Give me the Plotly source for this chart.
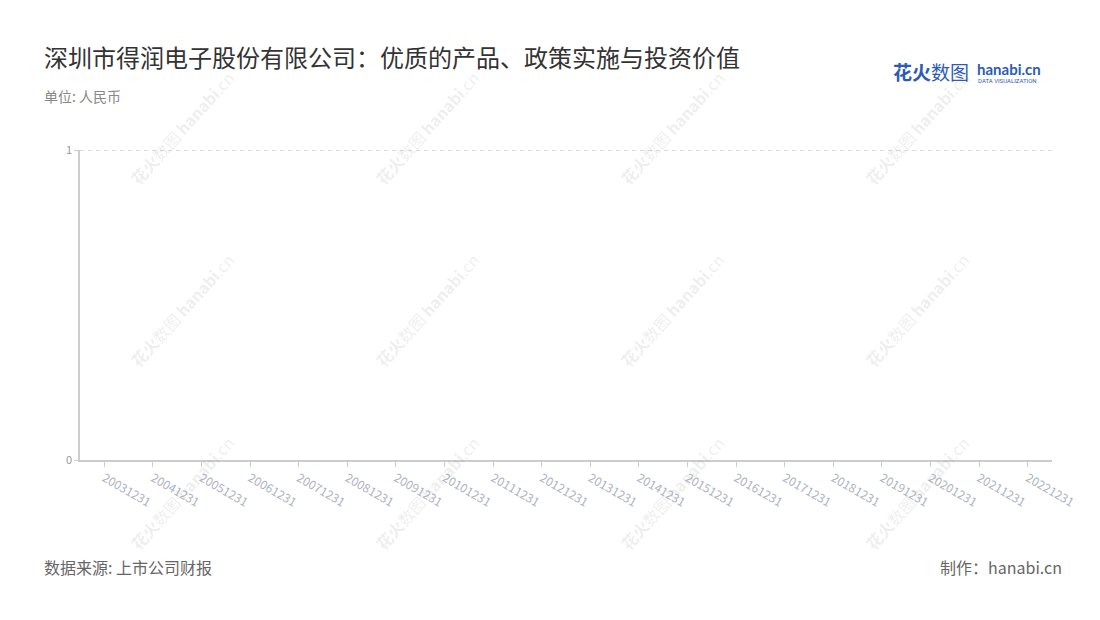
import plotly.graph_objects as go

categories = ["20031231", "20041231", "20051231", "20061231", "20071231",
              "20081231", "20091231", "20101231", "20111231", "20121231",
              "20131231", "20141231", "20151231", "20161231", "20171231",
              "20181231", "20191231", "20201231", "20211231", "20221231"]
values = [None, None, None, None, None, None, None, None, None, None,
          None, None, None, None, None, None, None, None, None, None]
y_ticks = [0, 1]

title = "深圳市得润电子股份有限公司：优质的产品、政策实施与投资价值"
unit = "单位: 人民币"
source = "数据来源: 上市公司财报"
maker = "制作：hanabi.cn"

FONT = "Noto Sans CJK SC"
OFF = 8  # page body margin offset

# target plot area in window pixels
PL, PR, PT, PB = 80, 1052, 150, 460

fig = go.Figure()
fig.add_trace(go.Scatter(x=categories, y=values, mode="lines",
                         line=dict(color="#3b6fd6"), showlegend=False,
                         hoverinfo="skip"))

fig.update_layout(
    width=1100, height=620,
    paper_bgcolor="white", plot_bgcolor="white",
    margin=dict(l=PL - OFF, r=1100 - PR + OFF, t=PT - OFF, b=620 - PB + OFF, autoexpand=False),
    font=dict(family=FONT, color="#333"),
    showlegend=False,
    xaxis=dict(
        type="category", categoryorder="array", categoryarray=categories,
        range=[-0.5, len(categories) - 0.5],
        showline=True, linecolor="#cccccc", linewidth=1.5,
        ticks="outside", ticklen=5, tickcolor="#cccccc", tickwidth=1,
        tickangle=30, tickfont=dict(size=12, color="#adb3c3", family=FONT),
        showgrid=False, zeroline=False, fixedrange=True,
    ),
    yaxis=dict(
        range=[0, 1], tickvals=y_ticks, ticktext=[str(v) for v in y_ticks],
        showline=True, linecolor="#cccccc", linewidth=1.5,
        ticks="outside", ticklen=4, tickcolor="#cccccc",
        tickfont=dict(size=11, color="#999999", family=FONT),
        showgrid=False, zeroline=False, fixedrange=True,
    ),
)

# dashed grid line at the top tick
for t in y_ticks[1:]:
    fig.add_shape(type="line", xref="paper", yref="y", x0=0, x1=1, y0=t, y1=t,
                  line=dict(color="#cfcfcf", width=1.3, dash="4px,4px"), layer="above")


def paper_x(px):
    return (px - PL) / (PR - PL)


def paper_y(py):
    return (PB - py) / (PB - PT)


# watermarks
wm_cols = [182, 427, 672, 917]
wm_rows = [128, 310, 493]
for cx in wm_cols:
    for cy in wm_rows:
        fig.add_annotation(
            text="<b>花火</b>数图 <b>hanabi</b>.cn", x=paper_x(cx), y=paper_y(cy),
            xref="paper", yref="paper", showarrow=False, textangle=-48,
            font=dict(size=16, color="rgba(150,150,150,0.16)", family=FONT),
            xanchor="center", yanchor="middle",
        )

fig.add_annotation(text=title, x=paper_x(42), y=paper_y(56), xref="paper", yref="paper",
                   showarrow=False, xanchor="left", yanchor="middle",
                   font=dict(size=24, color="#333333", family=FONT))
fig.add_annotation(text=unit, x=paper_x(42), y=paper_y(96), xref="paper", yref="paper",
                   showarrow=False, xanchor="left", yanchor="middle",
                   font=dict(size=14, color="#888888", family=FONT))
fig.add_annotation(text=source, x=paper_x(42), y=paper_y(567), xref="paper", yref="paper",
                   showarrow=False, xanchor="left", yanchor="middle",
                   font=dict(size=16, color="#666666", family=FONT))
fig.add_annotation(text=maker, x=paper_x(1064), y=paper_y(567), xref="paper", yref="paper",
                   showarrow=False, xanchor="right", yanchor="middle",
                   font=dict(size=16, color="#666666", family=FONT))
# logo
fig.add_annotation(text="<b>花火</b>数图", x=paper_x(891), y=paper_y(72), xref="paper", yref="paper",
                   showarrow=False, xanchor="left", yanchor="middle",
                   font=dict(size=19, color="#2d5bb5", family=FONT))
fig.add_annotation(text="<b>hanabi.cn</b>", x=paper_x(975), y=paper_y(69), xref="paper", yref="paper",
                   showarrow=False, xanchor="left", yanchor="middle",
                   font=dict(size=15, color="#2d5bb5", family="Lato"))
fig.add_annotation(text="DATA VISUALIZATION", x=paper_x(976), y=paper_y(80), xref="paper", yref="paper",
                   showarrow=False, xanchor="left", yanchor="middle",
                   font=dict(size=6, color="#2d5bb5", family="Roboto"))

fig.write_html("out.html")
